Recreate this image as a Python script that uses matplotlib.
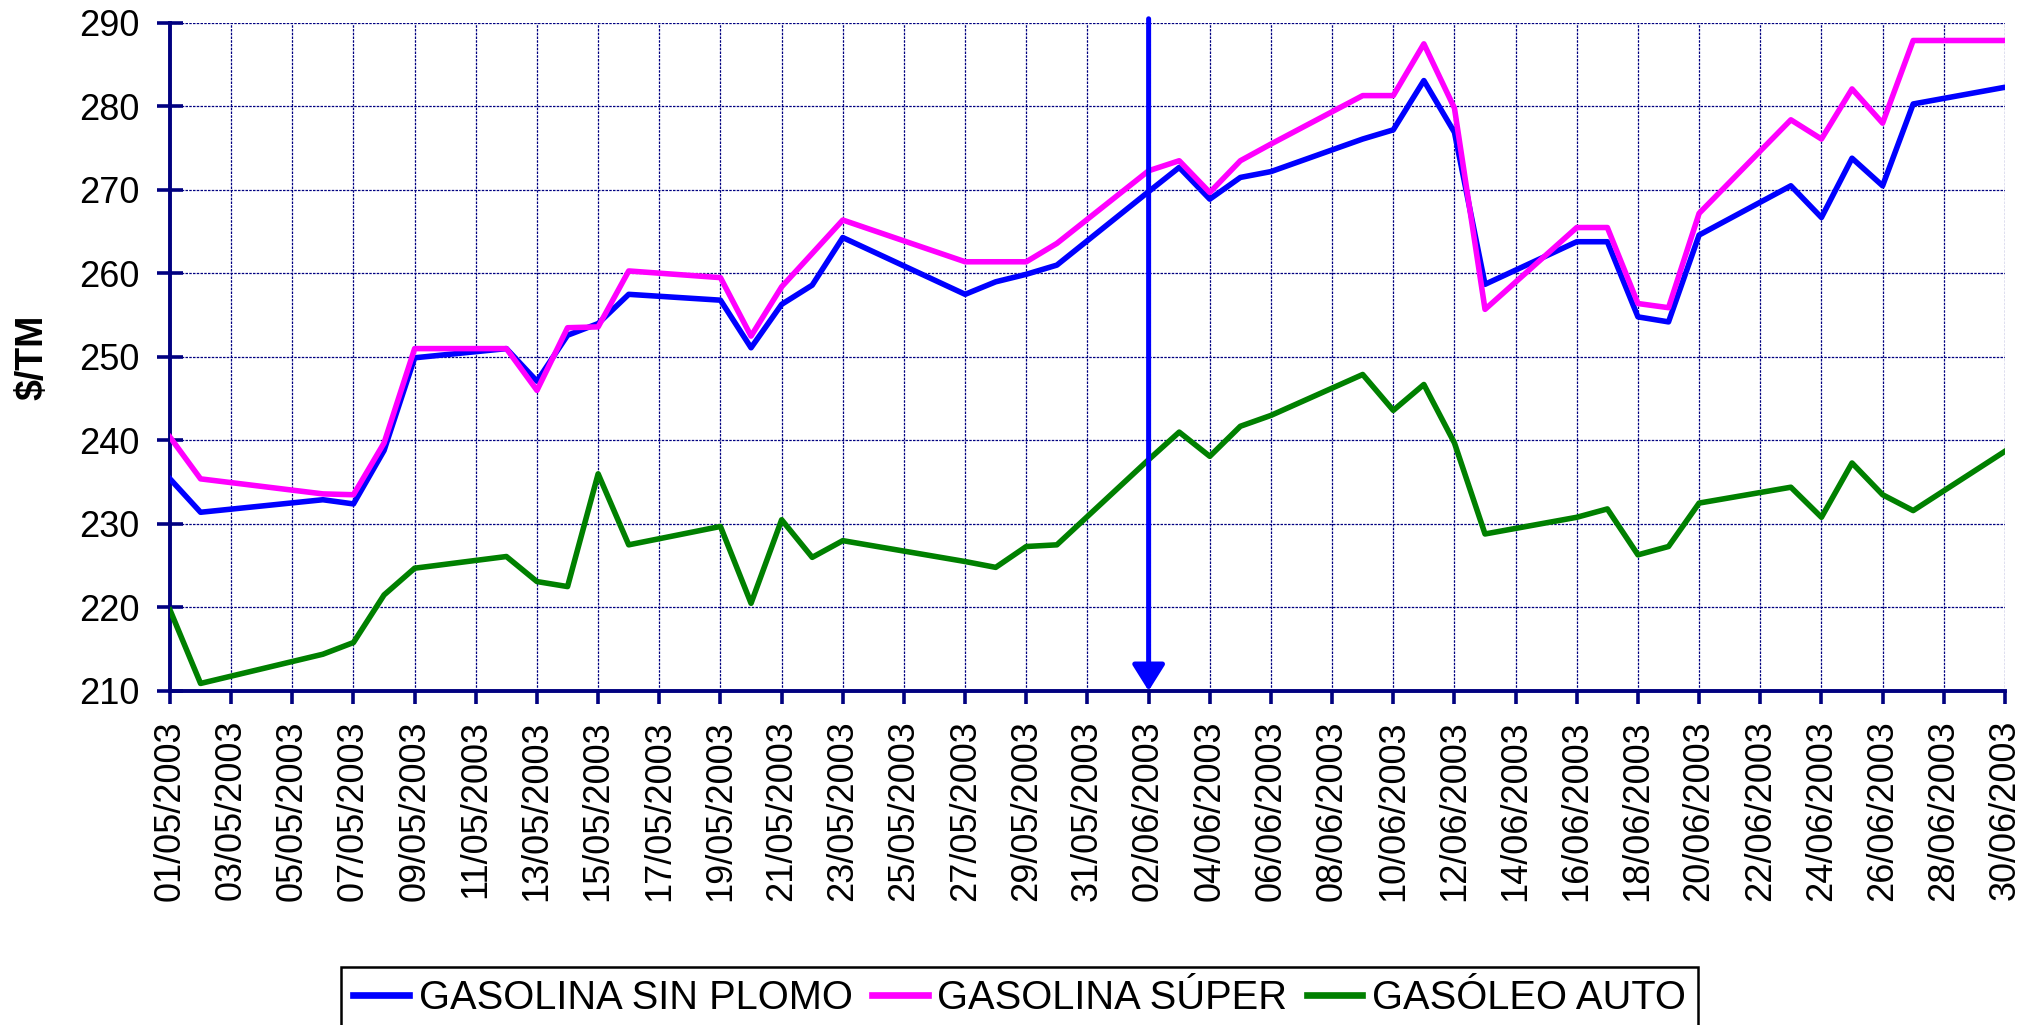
import matplotlib
matplotlib.use("Agg")
import matplotlib.pyplot as plt
import matplotlib.dates as mdates
import pandas as pd

plt.rcParams['font.family'] = ['Liberation Sans', 'DejaVu Sans']

# fechas de cotizacion (dias habiles)
fechas = ["01/05/2003", "02/05/2003", "06/05/2003", "07/05/2003", "08/05/2003",
          "09/05/2003", "12/05/2003", "13/05/2003", "14/05/2003", "15/05/2003",
          "16/05/2003", "19/05/2003", "20/05/2003", "21/05/2003", "22/05/2003",
          "23/05/2003", "27/05/2003", "28/05/2003", "29/05/2003", "30/05/2003",
          "02/06/2003", "03/06/2003", "04/06/2003", "05/06/2003", "06/06/2003",
          "09/06/2003", "10/06/2003", "11/06/2003", "12/06/2003", "13/06/2003",
          "16/06/2003", "17/06/2003", "18/06/2003", "19/06/2003", "20/06/2003",
          "23/06/2003", "24/06/2003", "25/06/2003", "26/06/2003", "27/06/2003",
          "30/06/2003"]

sin_plomo = [235.4, 231.4, 232.9, 232.4, 238.8, 249.9, 251.0, 247.1, 252.6, 254.0,
             257.5, 256.8, 251.1, 256.3, 258.6, 264.3, 257.5, 259.0, 259.9, 261.0,
             269.8, 272.7, 268.9, 271.5, 272.2, 276.1, 277.2, 283.1, 276.9, 258.7,
             263.8, 263.8, 254.8, 254.2, 264.6, 270.5, 266.7, 273.8, 270.5, 280.3,
             282.3]

super_ = [240.4, 235.4, 233.6, 233.5, 239.7, 251.0, 251.0, 246.0, 253.5, 253.6,
          260.3, 259.5, 252.5, 258.4, 262.4, 266.4, 261.4, 261.4, 261.4, 263.6,
          272.3, 273.5, 269.7, 273.5, 275.5, 281.3, 281.3, 287.5, 279.8, 255.7,
          265.5, 265.5, 256.4, 255.9, 267.2, 278.4, 276.1, 282.1, 278.0, 287.9,
          287.9]

gasoleo = [219.7, 210.9, 214.4, 215.8, 221.5, 224.7, 226.1, 223.1, 222.5, 236.0,
           227.5, 229.7, 220.5, 230.5, 226.0, 228.0, 225.5, 224.8, 227.3, 227.5,
           237.7, 241.0, 238.1, 241.7, 243.0, 247.9, 243.6, 246.7, 239.7, 228.8,
           230.8, 231.8, 226.3, 227.3, 232.5, 234.4, 230.8, 237.3, 233.5, 231.6,
           238.7]

fecha_flecha = "02/06/2003"

x = pd.to_datetime(fechas, format="%d/%m/%Y")
navy = '#000080'

fig = plt.figure(figsize=(20.26, 10.25), dpi=100)
ax = fig.add_axes([0.0839, 0.3259, 0.9057, 0.6517])

ax.plot(x, sin_plomo, color='#0000FF', lw=4.0, label='GASOLINA SIN PLOMO', zorder=3)
ax.plot(x, super_, color='#FF00FF', lw=4.0, label='GASOLINA SÚPER', zorder=3)
ax.plot(x, gasoleo, color='#008000', lw=4.0, label='GASÓLEO AUTO', zorder=3)

# flecha vertical
xf = pd.to_datetime(fecha_flecha, format="%d/%m/%Y")
ax.annotate('', xy=(xf, 210), xytext=(xf, 290.5),
            arrowprops=dict(arrowstyle='-|>,head_length=0.8,head_width=0.5',
                            color='#0000FF', lw=3.6, mutation_scale=20,
                            shrinkA=0, shrinkB=0),
            annotation_clip=False, zorder=4)

ax.set_xlim(x[0], x[-1])
ax.set_ylim(210, 290)
ax.set_yticks(range(210, 291, 10))
ticks = pd.date_range(x[0], x[-1], freq='2D')
ax.set_xticks(ticks)
ax.xaxis.set_major_formatter(mdates.DateFormatter('%d/%m/%Y'))

ax.grid(True, color=navy, lw=0.9, linestyle=(0, (2, 1)))
ax.set_axisbelow(True)

for s in ['top', 'right']:
    ax.spines[s].set_visible(False)
for s in ['left', 'bottom']:
    ax.spines[s].set_color(navy)
    ax.spines[s].set_linewidth(2.8)

ax.tick_params(axis='y', direction='inout', length=19, width=2.6, color=navy,
               labelsize=26, pad=12.5)
ax.tick_params(axis='x', direction='out', length=9, width=2.6, color=navy,
               labelsize=26, pad=12, labelrotation=90)

ax.set_ylabel('$/TM', fontsize=27, fontweight='bold')
ax.yaxis.set_label_coords(-0.065, 0.5)

fig.legend(loc='upper left', bbox_to_anchor=(0.1683, 0.0566), ncol=3,
           fontsize=28.7, frameon=True, fancybox=False, edgecolor='black',
           framealpha=1, handlelength=1.4, handletextpad=0.25,
           columnspacing=0.48, borderpad=0.3, borderaxespad=0)
leg = fig.legends[0]
leg.get_frame().set_linewidth(1.8)
for h in leg.legend_handles:
    h.set_linewidth(4.8)

fig.savefig('out.png', dpi=100)
